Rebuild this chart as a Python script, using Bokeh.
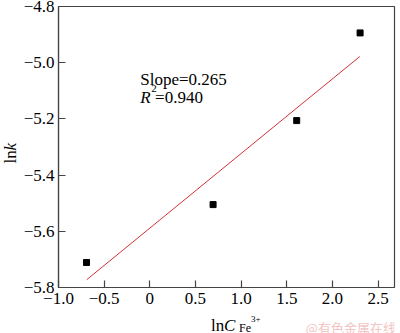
from bokeh.plotting import figure
from bokeh.layouts import row, column
from bokeh.models import Label, Range1d, FixedTicker, CustomJSTickFormatter
from bokeh.core.properties import value
from bokeh.embed import file_html
from bokeh.resources import INLINE

# data
ln_c = [-0.693, 0.693, 1.609, 2.303]
ln_k = [-5.711, -5.505, -5.206, -4.894]
fit_x = [-0.69, 2.30]
fit_y = [-5.772, -4.978]
x_ticks = [-1.0, -0.5, 0.0, 0.5, 1.0, 1.5, 2.0, 2.5]
y_ticks = [-5.8, -5.6, -5.4, -5.2, -5.0, -4.8]

SERIF = "Liberation Serif"
FS = "17px"
LEFT_W = 20          # strip holding the rotated y title
MAIN_W = 400 - LEFT_W
MAIN_H = 311
XLAB_H = 333 - MAIN_H
FRAME_L, FRAME_R = 57, 394

p = figure(width=MAIN_W, height=MAIN_H, output_backend="svg", toolbar_location=None,
           x_range=Range1d(-1.0, 2.68), y_range=Range1d(-5.8, -4.8),
           min_border_left=FRAME_L - LEFT_W, min_border_right=400 - FRAME_R, min_border_top=6,
           min_border_bottom=MAIN_H - 6 - 281)
p.background_fill_color = "white"
p.border_fill_color = "white"
p.outline_line_color = "#444444"
p.outline_line_width = 1.2
p.grid.visible = False

fmt = CustomJSTickFormatter(code="""
if (Math.abs(tick) < 1e-9) return '0';
return tick.toFixed(1).replace('-', '\u2212');
""")
for ax, ticks in ((p.xaxis[0], x_ticks), (p.yaxis[0], y_ticks)):
    ax.ticker = FixedTicker(ticks=ticks)
    ax.formatter = fmt
    ax.major_tick_in = 7
    ax.major_tick_out = 0
    ax.minor_tick_line_color = None
    ax.axis_line_color = "#444444"
    ax.axis_line_width = 1.2
    ax.major_tick_line_color = "#444444"
    ax.major_tick_line_width = 1.2
    ax.major_label_text_font = SERIF
    ax.major_label_text_font_size = FS
    ax.major_label_text_color = "black"
p.xaxis.major_label_standoff = 5
p.yaxis.major_label_standoff = 4

p.line(fit_x, fit_y, line_color="#d23232", line_width=1)
p.scatter(ln_c, ln_k, marker="square", size=6, fill_color="black", line_color="black")


def lab(x, y, text, size=FS, style="normal"):
    p.add_layout(Label(x=x, y=y, text=text, text_font=SERIF, text_font_size=size,
                       text_font_style=style, text_color="black",
                       text_align="left", text_baseline="alphabetic"))

# annotation text (inside the frame)
lab(-0.105, -5.061, "Slope=0.265")
lab(-0.105, -5.124, "R", style="italic")
lab(0.017, -5.092, "2", size="11px")
lab(0.058, -5.124, "=0.940")


def strip(w, h, xr, yr, bl, br):
    f = figure(width=w, height=h, output_backend="svg", toolbar_location=None,
               x_range=Range1d(*xr), y_range=Range1d(*yr),
               min_border=0, min_border_left=bl, min_border_right=br,
               min_border_top=0, min_border_bottom=0)
    f.axis.visible = False
    f.grid.visible = False
    f.outline_line_color = None
    f.background_fill_color = "white"
    f.border_fill_color = "white"
    return f


def txt(f, x, y, t, size=FS, style="normal", font=SERIF, color="black", angle=0.0,
        baseline="alphabetic"):
    f.text(x=[x], y=[y], text=[t], text_font=value(font), text_font_size=value(size),
           text_font_style=style, text_color=color, angle=angle,
           text_align="left", text_baseline=baseline)

# x title strip: coordinates are page pixels (frame aligned with the main frame)
fx = strip(MAIN_W, XLAB_H, (FRAME_L, FRAME_R), (333, MAIN_H),
           FRAME_L - LEFT_W, 400 - FRAME_R)
txt(fx, 210, 324.5, "ln")
txt(fx, 223, 324.5, "C", style="italic")
txt(fx, 238, 327.5, "Fe", size="12px")
txt(fx, 250, 318.5, "3+", size="9px")
txt(fx, 305, 327, "@有色金属在线", size="13px", font="Noto Sans CJK SC", color="#f2c4c4")

# y title strip: page pixels
fy = strip(LEFT_W, 333, (0, LEFT_W), (333, 0), 0, 0)
txt(fy, 10, 163, "ln", angle=1.5708, baseline="middle")
txt(fy, 10, 150, "k", style="italic", angle=1.5708, baseline="middle")

layout = row(fy, column(p, fx, spacing=0), spacing=0)

open("out.html", "w").write(file_html(layout, INLINE))
